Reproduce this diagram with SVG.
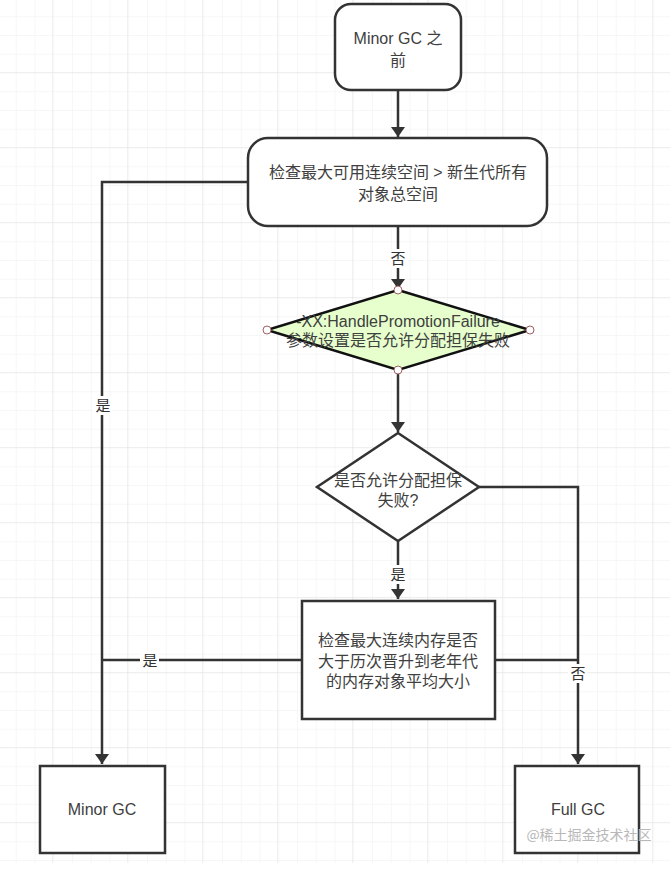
<svg xmlns="http://www.w3.org/2000/svg" width="670" height="874" viewBox="0 0 670 874">
<defs>
<pattern id="minor" width="18.75" height="18.75" patternUnits="userSpaceOnUse" x="-2" y="-1.5">
<path d="M18.75 0V18.75M0 18.75H18.75" fill="none" stroke="#f0f0f0" stroke-width="1"/>
</pattern>
<pattern id="major" width="75" height="75" patternUnits="userSpaceOnUse" x="-22" y="-2">
<path d="M75 0V75M0 75H75" fill="none" stroke="#e2e2e2" stroke-width="1"/>
</pattern>
<marker id="arr" viewBox="0 0 10 14" refX="10" refY="7" markerWidth="10" markerHeight="14" markerUnits="userSpaceOnUse" orient="auto">
<path d="M0 0L10 7L0 14Z" fill="#333"/>
</marker>
</defs>
<style>
.n{fill:#fff;stroke:#333;stroke-width:2.5}
.t{font-family:"Liberation Sans","Noto Sans CJK SC",sans-serif;font-size:16px;fill:#404040;text-anchor:middle}
.e{fill:none;stroke:#333;stroke-width:2.5}
.l{font-family:"Noto Sans CJK SC",sans-serif;font-size:15px;fill:#333;text-anchor:middle}
.lb{fill:#fff}
.p{fill:#fff;stroke:#a06060;stroke-width:1}
</style>
<rect width="670" height="874" fill="#fff"/>
<rect width="670" height="863" fill="url(#minor)"/>
<rect width="670" height="863" fill="url(#major)"/>
<g id="connectors">
<path class="e" d="M398 90V137" marker-end="url(#arr)"/>
<path class="e" d="M248 182H102V764" marker-end="url(#arr)"/>
<path class="e" d="M398 226V289" marker-end="url(#arr)"/>
<path class="e" d="M398 370V432" marker-end="url(#arr)"/>
<path class="e" d="M398 541V599" marker-end="url(#arr)"/>
<path class="e" d="M479 487H578V764" marker-end="url(#arr)"/>
<path class="e" d="M495 660H578"/>
<path class="e" d="M302 660H102"/>
<rect class="lb" x="93" y="396" width="19" height="19"/>
<text class="l" x="103" y="411">是</text>
<rect class="lb" x="389" y="249" width="19" height="19"/>
<text class="l" x="398" y="264">否</text>
<rect class="lb" x="389" y="565" width="19" height="19"/>
<text class="l" x="398" y="580">是</text>
<rect class="lb" x="140" y="651" width="19" height="19"/>
<text class="l" x="150" y="666">是</text>
<rect class="lb" x="568" y="664" width="19" height="19"/>
<text class="l" x="578" y="679">否</text>
</g>
<g id="start">
<rect class="n" x="335" y="4" width="126" height="86" rx="16"/>
<text class="t" x="398" y="44" font-size="17">Minor GC 之</text>
<text class="t" x="398" y="66" font-size="17">前</text>
</g>
<g id="check1">
<rect class="n" x="248" y="138" width="299" height="88" rx="20"/>
<text class="t" x="398" y="178" font-size="15">检查最大可用连续空间 &gt; 新生代所有</text>
<text class="t" x="398" y="200" font-size="15">对象总空间</text>
</g>
<g id="param">
<path d="M398 290L530 330L398 370L267 330Z" fill="#e6ffcc" stroke="#111" stroke-width="2.5"/>
<text class="t" x="398" y="327" font-size="18">-XX:HandlePromotionFailure</text>
<text class="t" x="398" y="346">参数设置是否允许分配担保失败</text>
<circle class="p" cx="398" cy="290" r="4"/>
<circle class="p" cx="530" cy="330" r="4"/>
<circle class="p" cx="398" cy="370" r="4"/>
<circle class="p" cx="267" cy="330" r="4"/>
</g>
<g id="allow">
<path class="n" d="M398 433L479 487L398 541L317 487Z"/>
<text class="t" x="398" y="486">是否允许分配担保</text>
<text class="t" x="398" y="506">失败?</text>
</g>
<g id="check2">
<rect class="n" x="302" y="601" width="193" height="118"/>
<text class="t" x="398" y="646">检查最大连续内存是否</text>
<text class="t" x="398" y="667">大于历次晋升到老年代</text>
<text class="t" x="398" y="687">的内存对象平均大小</text>
</g>
<g id="minorgc">
<rect class="n" x="40" y="766" width="125" height="87"/>
<text class="t" x="102" y="815" font-size="15">Minor GC</text>
</g>
<g id="fullgc">
<rect class="n" x="515" y="766" width="124" height="87"/>
<text class="t" x="578" y="815" font-size="15">Full GC</text>
</g>
<text x="589" y="840" font-family="'Noto Sans CJK SC',sans-serif" font-size="14" fill="#b8b8b8" text-anchor="middle">@稀土掘金技术社区</text>
</svg>
